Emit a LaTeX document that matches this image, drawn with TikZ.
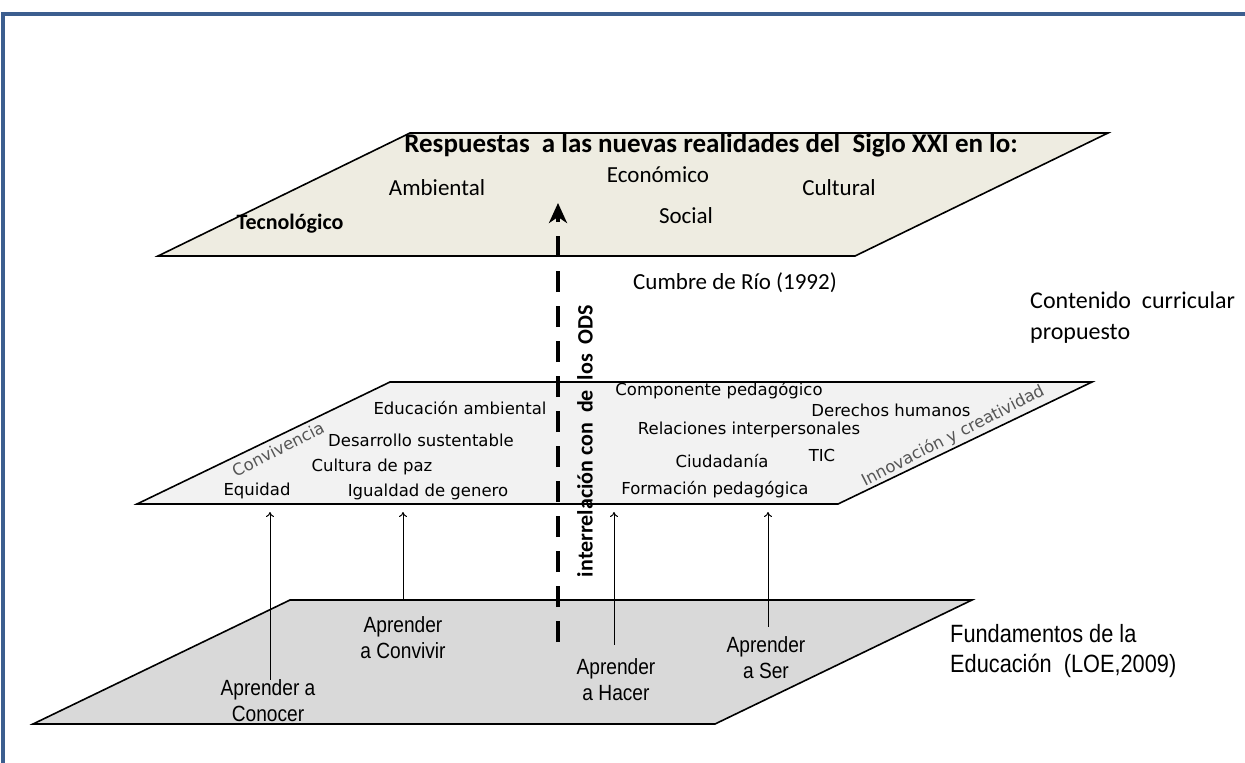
\documentclass[tikz,border=0pt]{standalone}
\usepackage{fontspec}
\setmainfont{Liberation Sans}
\newfontfamily\calibrifont{Carlito}
\newfontfamily\tahomafont{DejaVu Sans}
\newfontfamily\narrowfont[FakeStretch=0.87]{Liberation Sans}
\usetikzlibrary{arrows.meta}

\newlength{\du}
\setlength{\du}{1pt}

\definecolor{framecolor}{rgb}{0.235294, 0.368627, 0.560784}
\definecolor{topfill}{rgb}{0.933333, 0.925490, 0.882353}
\definecolor{midfill}{rgb}{0.949020, 0.949020, 0.949020}
\definecolor{botfill}{rgb}{0.850980, 0.850980, 0.850980}
\definecolor{slanttext}{rgb}{0.333333, 0.333333, 0.333333}

\tikzset{
  plano/.style={draw=black, line width=1.6\du, line join=miter},
  calibri/.style={font=\calibrifont\fontsize{23}{26}\selectfont, inner sep=0pt},
  calibrib/.style={font=\calibrifont\bfseries\fontsize{22}{26}\selectfont, inner sep=0pt},
  tahoma/.style={font=\tahomafont\fontsize{16.5}{20}\selectfont, inner sep=0pt},
  inclinado/.style={tahoma, text=slanttext},
  aprender/.style={font=\narrowfont\fontsize{22}{26}\selectfont, align=center, inner sep=0pt},
  lateral/.style={font=\narrowfont\fontsize{25}{30}\selectfont, align=left, anchor=west, inner sep=0pt},
  flecha/.style={line width=1\du, -{To[length=5pt,width=8pt]}},
  ods/.style={line width=4.5\du, dash pattern=on 21pt off 14pt,
    -{Stealth[length=20pt,width=18pt,inset=6pt]}},
}

\begin{document}
\begin{tikzpicture}
\pgftransformxscale{1.000000}
\pgftransformyscale{-1.000000}
\useasboundingbox (0\du,0\du) rectangle (1245\du,763\du);
% marco
\draw[framecolor, line width=3.5\du] (3\du,763\du)--(3\du,14\du)--(1245\du,14\du);
% planos
\filldraw[plano, fill=topfill] (410\du,133\du)--(1108\du,133\du)--(855\du,256\du)--(158\du,256\du)--cycle;
\filldraw[plano, fill=midfill] (390\du,382\du)--(1092\du,382\du)--(838\du,504\du)--(137\du,504\du)--cycle;
\filldraw[plano, fill=botfill] (290\du,600\du)--(972\du,600\du)--(715\du,724\du)--(33\du,724\du)--cycle;

% plano superior
\node[calibrib, font=\calibrifont\bfseries\fontsize{27}{30}\selectfont] (titulo) at (711\du,145\du) {Respuestas \ a las nuevas realidades del \ Siglo XXI en lo:};
\node[calibri] (ambiental) at (437\du,188\du) {Ambiental};
\node[calibri] (economico) at (658\du,175\du) {Económico};
\node[calibri] (cultural) at (839\du,188\du) {Cultural};
\node[calibri] (social) at (686\du,216\du) {Social};
\node[calibrib] (tecnologico) at (290\du,224\du) {Tecnológico};
\node[calibri] (cumbre) at (735\du,283\du) {Cumbre de Río (1992)};
\node[calibri, font=\calibrifont\fontsize{24}{31}\selectfont, anchor=west, align=left] (contenido) at (1030\du,318\du) {Contenido \ curricular\\propuesto};

% plano medio
\node[tahoma] (educacion) at (460\du,408\du) {Educación ambiental};
\node[tahoma] (desarrollo) at (421\du,440\du) {Desarrollo sustentable};
\node[tahoma] (cultura) at (372\du,467\du) {Cultura de paz};
\node[tahoma] (equidad) at (257\du,491\du) {Equidad};
\node[tahoma] (igualdad) at (428\du,492\du) {Igualdad de genero};
\node[tahoma] (componente) at (719\du,391\du) {Componente pedagógico};
\node[tahoma] (derechos) at (891\du,410\du) {Derechos humanos};
\node[tahoma] (relaciones) at (749\du,430\du) {Relaciones interpersonales};
\node[tahoma] (ciudadania) at (722\du,461\du) {Ciudadanía};
\node[tahoma] (tic) at (822\du,455\du) {TIC};
\node[tahoma] (formacion) at (715\du,490\du) {Formación pedagógica};
\node[inclinado, rotate=27] (convivencia) at (278\du,449\du) {Convivencia};
\node[inclinado, rotate=27] (innovacion) at (953\du,436\du) {Innovación y creatividad};

% plano inferior
\node[aprender] (conocer) at (268\du,701\du) {Aprender a\\Conocer};
\node[aprender] (convivir) at (403\du,638\du) {Aprender\\a Convivir};
\node[aprender] (hacer) at (616\du,680\du) {Aprender\\a Hacer};
\node[aprender] (ser) at (766\du,658\du) {Aprender\\a Ser};
\node[lateral] (fundamentos) at (950\du,651\du) {Fundamentos de la\\Educación \ (LOE,2009)};

% flechas hacia el plano medio
\coordinate (medio-a) at (270\du,512\du);
\coordinate (medio-b) at (403\du,512\du);
\coordinate (medio-c) at (614\du,512\du);
\coordinate (medio-d) at (768\du,512\du);
\coordinate (bajo-b) at (403\du,600\du);
\draw[flecha] (conocer.north -| medio-a) -- (medio-a);
\draw[flecha] (bajo-b) -- (medio-b);
\draw[flecha, shorten <=14\du] (hacer.north -| medio-c) -- (medio-c);
\draw[flecha, shorten <=10\du] (ser.north -| medio-d) -- (medio-d);

% interrelacion
\coordinate (ods-ini) at (558\du,642\du);
\coordinate (ods-fin) at (558\du,203\du);
\draw[ods] (ods-ini) -- (ods-fin);
\node[calibrib, rotate=90] (interrelacion) at (585\du,441\du) {interrelación con \ de \ los \ ODS};
\end{tikzpicture}
\end{document}
